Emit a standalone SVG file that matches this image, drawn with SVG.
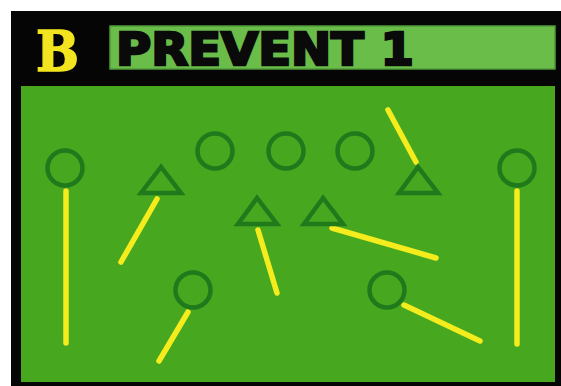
<svg xmlns="http://www.w3.org/2000/svg" width="561" height="386" viewBox="0 0 561 386">
<style>
.p{fill:none;stroke:#1f7a1c;stroke-width:4.5}
.r{fill:none;stroke:#1f7a1c;stroke-width:4.5;stroke-linejoin:miter}
.m{stroke:#f4ec1c;stroke-width:5.5;stroke-linecap:round}
</style>
<rect x="0" y="0" width="561" height="386" fill="#ffffff"/>
<rect x="11" y="11" width="550" height="375" fill="#050505"/>
<rect x="110" y="26" width="445" height="43" fill="#6bbd4a" stroke="#4f9a38" stroke-width="1.5"/>
<text x="36" y="71" font-family="DejaVu Serif, serif" font-weight="bold" font-size="56" fill="#f2e41e" stroke="#f2e41e" stroke-width="1.5" textLength="43" lengthAdjust="spacingAndGlyphs">B</text>
<text x="116" y="65" font-family="DejaVu Sans, sans-serif" font-weight="bold" font-size="45" fill="#0a0a0a" stroke="#0a0a0a" stroke-width="2.5" stroke-linejoin="miter" textLength="298" lengthAdjust="spacingAndGlyphs">PREVENT 1</text>
<rect x="21" y="86" width="534" height="296" fill="#47a71f"/>
<g id="connectors">
<line class="m" x1="66" y1="191" x2="66" y2="343"/>
<line class="m" x1="157" y1="199" x2="121" y2="262"/>
<line class="m" x1="188" y1="312" x2="159" y2="361"/>
<line class="m" x1="258" y1="230" x2="277" y2="293"/>
<line class="m" x1="416" y1="162" x2="388" y2="110"/>
<line class="m" x1="332" y1="228" x2="436" y2="258"/>
<line class="m" x1="404" y1="305" x2="480" y2="341"/>
<line class="m" x1="517" y1="191" x2="517" y2="344"/>
</g>
<g id="o1"><circle class="p" cx="65" cy="168" r="17.5"/></g>
<g id="o2"><circle class="p" cx="215" cy="151" r="17.5"/></g>
<g id="o3"><circle class="p" cx="286" cy="151" r="17.5"/></g>
<g id="o4"><circle class="p" cx="355" cy="151" r="17.5"/></g>
<g id="o5"><circle class="p" cx="517" cy="168" r="17.5"/></g>
<g id="o6"><circle class="p" cx="193" cy="290" r="17.5"/></g>
<g id="o7"><circle class="p" cx="387" cy="290" r="17.5"/></g>
<g id="t1"><polygon class="r" points="161,167 141,193 181,193"/></g>
<g id="t2"><polygon class="r" points="257,198 238,224 277,224"/></g>
<g id="t3"><polygon class="r" points="323,198 304,224 343,224"/></g>
<g id="t4"><polygon class="r" points="418,167 399,193 438,193"/></g>
</svg>
